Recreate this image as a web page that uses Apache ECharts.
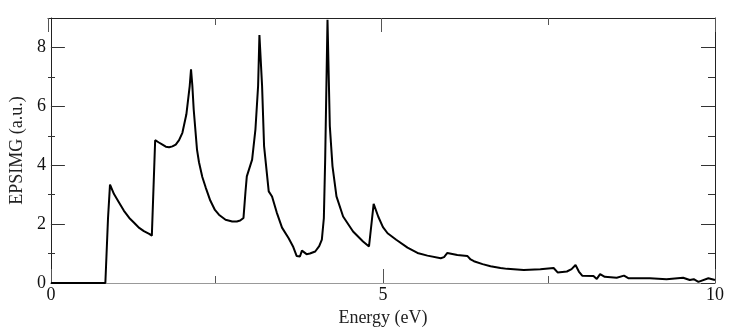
<!DOCTYPE html>
<html>
<head>
<meta charset="utf-8">
<script src="https://cdn.jsdelivr.net/npm/echarts@6/dist/echarts.min.js"></script>
<style>
  html, body { margin: 0; padding: 0; background: #fff; }
  #chart { width: 737px; height: 333px; }
</style>
</head>
<body>
<div id="chart"></div>
<script>
// energy (eV) and EPSIMG (a.u.)
const energy = [0, 0.82, 0.86, 0.89, 0.95, 1.03, 1.10, 1.18, 1.26, 1.33, 1.40, 1.48, 1.52,
  1.57, 1.62, 1.68, 1.73, 1.78, 1.83, 1.88, 1.93, 1.98, 2.04, 2.09, 2.11, 2.13, 2.15,
  2.20, 2.23, 2.28, 2.33, 2.40, 2.47, 2.53, 2.63, 2.73, 2.80, 2.85, 2.90, 2.93, 2.95,
  3.03, 3.08, 3.12, 3.14, 3.18, 3.21, 3.28, 3.33, 3.40, 3.48, 3.58, 3.65, 3.70, 3.75,
  3.78, 3.85, 3.90, 3.98, 4.04, 4.08, 4.11, 4.13, 4.165, 4.20, 4.24, 4.30, 4.40, 4.55,
  4.70, 4.79, 4.86, 4.93, 5.0, 5.07, 5.20, 5.37, 5.52, 5.67, 5.87, 5.92, 5.97, 6.12,
  6.27, 6.32, 6.37, 6.50, 6.62, 6.77, 6.87, 7.12, 7.37, 7.57, 7.60, 7.63, 7.77, 7.84,
  7.90, 7.95, 8.00, 8.17, 8.22, 8.27, 8.34, 8.52, 8.63, 8.70, 9.02, 9.27, 9.52, 9.62,
  9.68, 9.75, 9.90, 10.0];
const epsimg = [0, 0, 2.2, 3.34, 3.02, 2.72, 2.45, 2.21, 2.03, 1.87, 1.76, 1.67, 1.61,
  4.85, 4.78, 4.70, 4.63, 4.61, 4.64, 4.70, 4.85, 5.10, 5.73, 6.69, 7.26, 6.70, 5.90,
  4.53, 4.10, 3.60, 3.25, 2.80, 2.48, 2.32, 2.15, 2.09, 2.09, 2.12, 2.21, 3.10, 3.62,
  4.19, 5.22, 6.69, 8.42, 6.69, 4.65, 3.11, 2.94, 2.40, 1.88, 1.52, 1.22, 0.92, 0.90,
  1.10, 0.98, 1.00, 1.07, 1.25, 1.47, 2.2, 4.19, 8.94, 5.33, 3.97, 2.94, 2.26, 1.75,
  1.41, 1.24, 2.69, 2.25, 1.90, 1.69, 1.47, 1.20, 1.02, 0.93, 0.84, 0.88, 1.02, 0.95,
  0.92, 0.80, 0.74, 0.64, 0.57, 0.51, 0.48, 0.44, 0.47, 0.51, 0.50, 0.36, 0.39, 0.47,
  0.61, 0.39, 0.25, 0.24, 0.14, 0.30, 0.21, 0.18, 0.25, 0.16, 0.16, 0.13, 0.18, 0.10,
  0.13, 0.04, 0.16, 0.10];
const xMajor = [0, 5, 10];
const xMinor = [2.5, 7.5];
const yMajor = [0, 2, 4, 6, 8];
const yMinor = [1, 3, 5, 7];

const font = 'Liberation Serif';
const box = { left: 48, right: 22, top: 18, bottom: 50 };

function xAx(gi, pos, ticks, len, opts) {
  return Object.assign({
    type: 'value', gridIndex: gi, position: pos, min: 0, max: 10,
    axisLine: { show: false, onZero: false },
    axisTick: { show: true, inside: true, length: len, customValues: ticks,
      lineStyle: { color: '#555', width: 1 } },
    axisLabel: { show: false },
    splitLine: { show: false }
  }, opts || {});
}
function yAx(gi, pos, ticks, len, opts) {
  return Object.assign({
    type: 'value', gridIndex: gi, position: pos, min: 0, max: 9,
    axisLine: { show: false, onZero: false },
    axisTick: { show: true, inside: true, length: len, customValues: ticks,
      lineStyle: { color: '#333', width: 1 } },
    axisLabel: { show: false },
    splitLine: { show: false }
  }, opts || {});
}

const chart = echarts.init(document.getElementById('chart'));
chart.setOption({
  animation: false,
  backgroundColor: '#fff',
  grid: [
    Object.assign({}, box),
    Object.assign({}, box),
    Object.assign({}, box),
    Object.assign({}, box)
  ],
  xAxis: [
    xAx(0, 'bottom', xMajor, 14, {
      axisLine: { show: true, onZero: false, lineStyle: { color: '#999', width: 1 } },
      axisLabel: { show: true, customValues: xMajor, margin: 3,
        fontFamily: font, fontSize: 18, color: '#111' },
      name: 'Energy (eV)', nameLocation: 'middle', nameGap: 24,
      nameTextStyle: { fontFamily: font, fontSize: 18, color: '#222' }
    }),
    xAx(1, 'bottom', xMinor, 7),
    xAx(2, 'top', xMajor, 14, {
      axisLine: { show: true, onZero: false, lineStyle: { color: '#222', width: 1 } }
    }),
    xAx(3, 'top', xMinor, 7)
  ],
  yAxis: [
    yAx(0, 'left', yMajor, 14, {
      axisLine: { show: true, onZero: false, lineStyle: { color: '#222', width: 1 } },
      axisLabel: { show: true, customValues: yMajor, margin: 5,
        fontFamily: font, fontSize: 18, color: '#111' },
      name: 'EPSIMG (a.u.)', nameLocation: 'middle', nameGap: 21,
      nameTextStyle: { fontFamily: font, fontSize: 18, color: '#222' }
    }),
    yAx(1, 'left', yMinor, 7),
    yAx(2, 'right', yMajor, 14, {
      axisLine: { show: true, onZero: false, lineStyle: { color: '#222', width: 1 } }
    }),
    yAx(3, 'right', yMinor, 7)
  ],
  series: [{
    type: 'line',
    xAxisIndex: 0, yAxisIndex: 0,
    data: energy.map((e, i) => [e, epsimg[i]]),
    showSymbol: false,
    smooth: false,
    lineStyle: { color: '#000', width: 2 },
    z: 5
  }]
});
</script>
</body>
</html>
